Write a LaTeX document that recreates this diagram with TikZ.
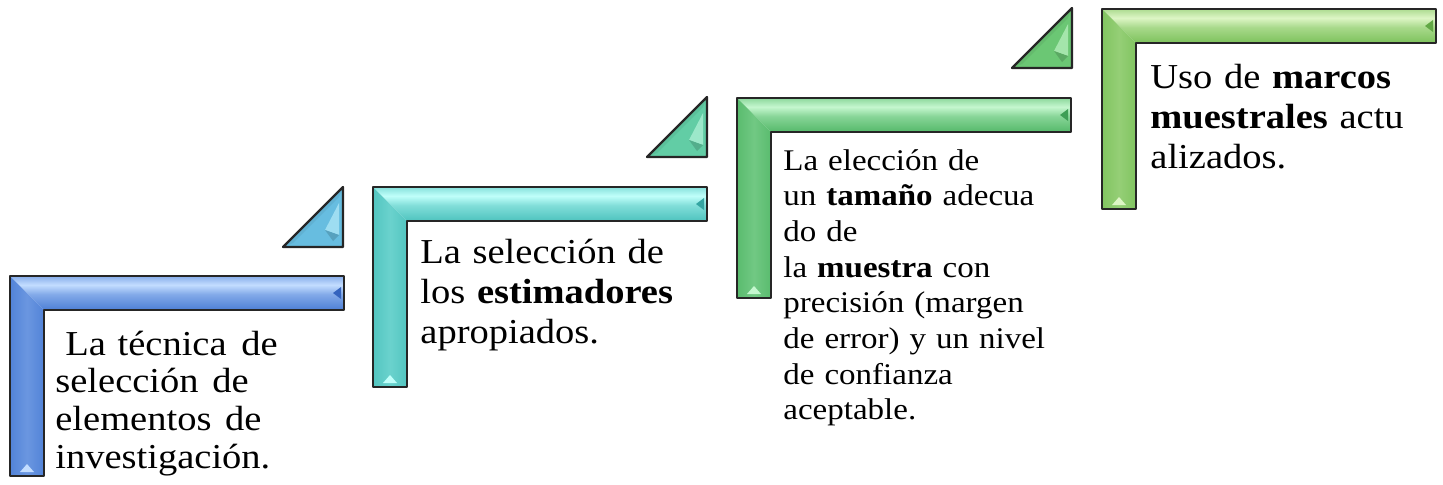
\documentclass[tikz,border=0pt]{standalone}
\usepackage{fontspec}
\setmainfont{Liberation Serif}[FakeStretch=1.1]
\definecolor{s1base}{HTML}{4D7FD6}\definecolor{s1dark}{HTML}{3463BE}\definecolor{s1light}{HTML}{C3DDFF}
\definecolor{s2base}{HTML}{4EC3BE}\definecolor{s2dark}{HTML}{35A5A2}\definecolor{s2light}{HTML}{C0FFFA}
\definecolor{s3base}{HTML}{55B96A}\definecolor{s3dark}{HTML}{3E9E55}\definecolor{s3light}{HTML}{C5F7CF}
\definecolor{s4base}{HTML}{7DC25C}\definecolor{s4dark}{HTML}{62A845}\definecolor{s4light}{HTML}{DDF5C5}
\definecolor{t1base}{HTML}{67BDE0}\definecolor{t1light}{HTML}{B5EAF8}
\definecolor{t2base}{HTML}{62CDA5}\definecolor{t2light}{HTML}{B5F3DA}
\definecolor{t3base}{HTML}{6BC774}\definecolor{t3light}{HTML}{BDF2C2}
\definecolor{outline}{HTML}{262626}
\colorlet{mybase}{s1base}\colorlet{mydark}{s1dark}\colorlet{mylight}{s1light}
\pgfdeclareverticalshading[mybase,mydark,mylight]{hbarshade}{100bp}{%
  color(0bp)=(mydark); color(25bp)=(mybase); color(48bp)=(mybase!55!mylight);
  color(62bp)=(mylight); color(80bp)=(mybase!70!mylight); color(100bp)=(mybase)}
\pgfdeclarehorizontalshading[mybase,mydark,mylight]{vbarshade}{100bp}{%
  color(0bp)=(mydark); color(20bp)=(mybase); color(50bp)=(mybase!75!mylight);
  color(80bp)=(mybase); color(100bp)=(mydark!70!mybase)}
\newcommand\mystep[3]{%
  \colorlet{mybase}{#3base}\colorlet{mydark}{#3dark}\colorlet{mylight}{#3light}%
  \begin{scope}[shift={(#1,#2)}]
    \shade[shading=hbarshade] (0,0) -- (334,0) -- (334,34) -- (34,34) -- cycle;
    \shade[shading=vbarshade] (0,0) -- (34,34) -- (34,200) -- (0,200) -- cycle;
    \fill[#3dark] (331,11) -- (331,23) -- (323,17) -- cycle;
    \fill[#3light] (10,196) -- (24,196) -- (17,188) -- cycle;
    \draw[outline, line width=1.1pt] (0,0) -- (334,0) -- (334,34) -- (34,34) -- (34,200) -- (0,200) -- cycle;
  \end{scope}}
\newcommand\mytri[3]{%
  \begin{scope}[shift={(#1,#2)}]
    \fill[#3base] (-60,0) -- (0,0) -- (0,-60) -- cycle;
    \fill[#3base!80!black, opacity=0.3] (-60,0) -- (0,-60) -- (-4,-50) -- (-50,-4) -- cycle;
    \fill[#3light!70!#3base] (-4,-44) -- (-4,-12) -- (-18,-17) -- cycle;
    \fill[#3base!85!black] (-18,-17) -- (-4,-12) -- (-10,-6) -- cycle;
    \draw[outline, line width=1.1pt] (-60,0) -- (0,0) -- (0,-60) -- cycle;
  \end{scope}}
\tikzset{txt/.style={inner sep=0pt, anchor=base west, text width=190pt, align=left, text=black}}
\begin{document}
\begin{tikzpicture}[x=0.5pt,y=-0.5pt, line join=round]
\useasboundingbox (0,0) rectangle (1443,484);
\mystep{10}{276}{s1}
\mystep{373}{187}{s2}
\mystep{737}{98}{s3}
\mystep{1102}{9}{s4}
\mytri{343}{247}{t1}
\mytri{707}{157}{t2}
\mytri{1072}{68}{t3}
\node[txt, font=\fontsize{17.5}{18.85}\selectfont] (text1) at (55,355)
  {\hspace*{5pt}La técnica\hspace{1.5pt} de\\ selección\hspace{1pt} de\\ elementos\hspace{1pt} de\\ investigación.};
\node[txt, font=\fontsize{17.5}{20}\selectfont] (text2) at (420,263)
  {La selección de\\ los \textbf{estimadores}\\ apropiados.};
\node[txt, font=\fontsize{15}{17.85}\selectfont] (text3) at (783,170)
  {La elección de\\ un \textbf{tamaño} adecua\\ do de\\ la \textbf{muestra} con\\ precisión (margen\\ de error) y un nivel\\ de confianza\\ aceptable.};
\node[txt, font=\fontsize{17.5}{20}\selectfont] (text4) at (1150,88)
  {Uso de \textbf{marcos}\\ \textbf{muestrales} actu\\ alizados.};
\end{tikzpicture}
\end{document}
